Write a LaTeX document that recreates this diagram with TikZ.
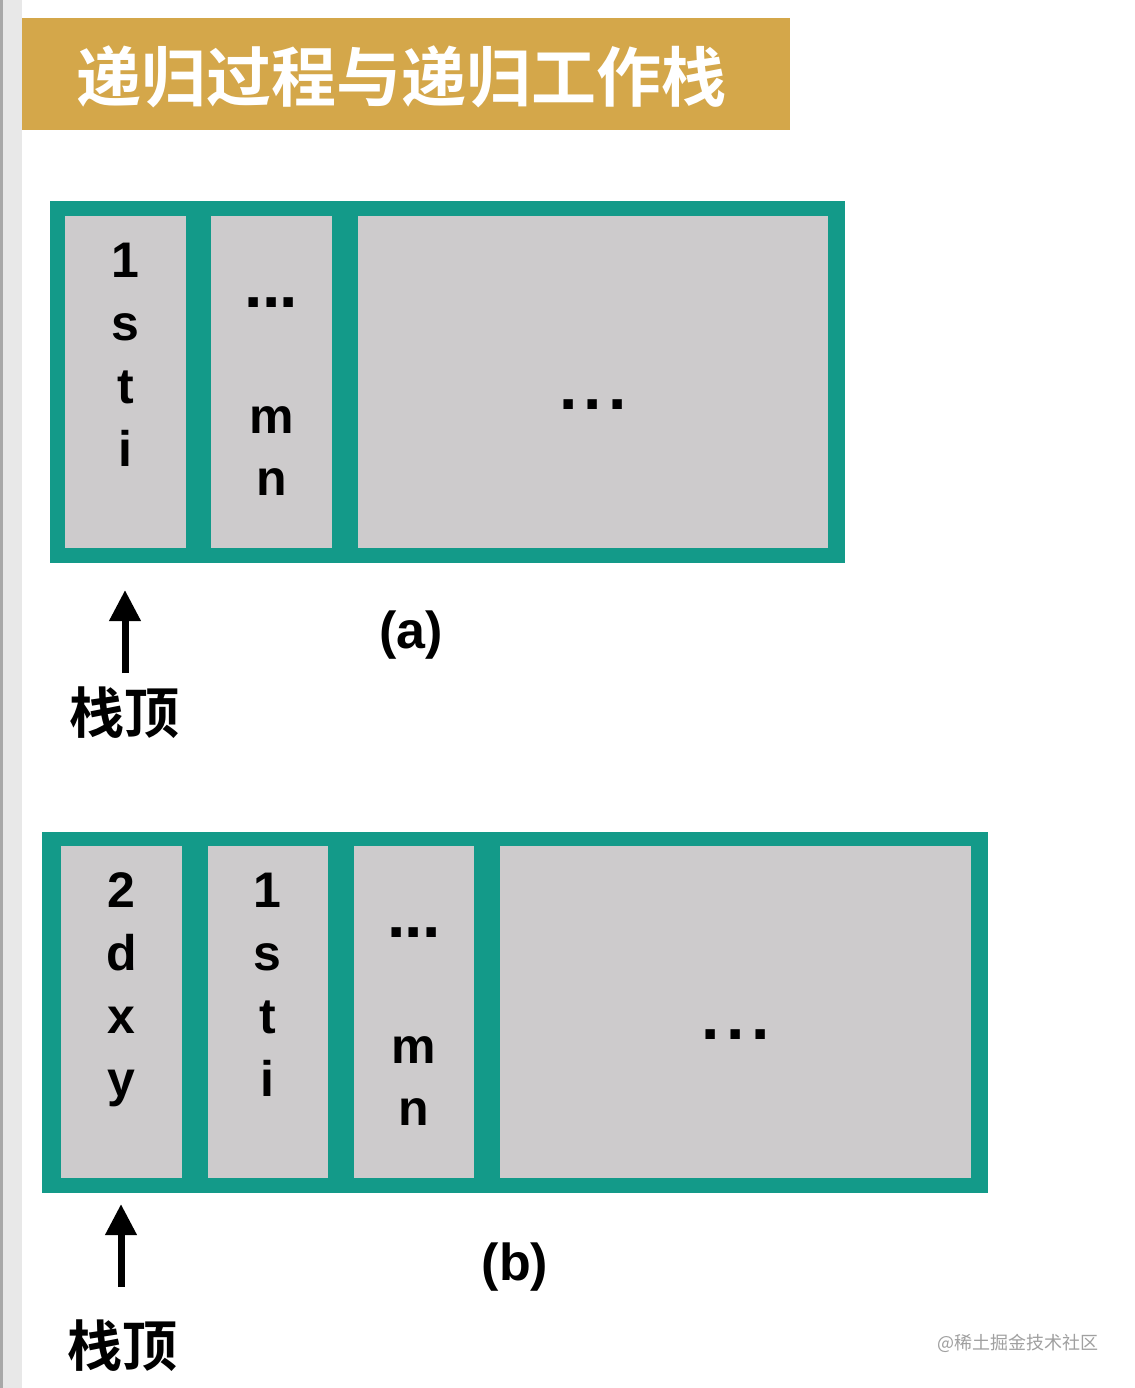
\documentclass[tikz,border=0pt]{standalone}
\usepackage{fontspec}
\setmainfont{Liberation Sans}
\newfontfamily\cjk[BoldFont={* Bold}]{Noto Sans CJK SC}
\usetikzlibrary{arrows.meta}
\definecolor{tealc}{HTML}{139A89}
\definecolor{cellc}{HTML}{CDCBCC}
\definecolor{goldc}{HTML}{D4A74A}
\definecolor{stripc}{HTML}{E8E8E8}
\definecolor{stripd}{HTML}{A8A8A8}
\definecolor{wmc}{HTML}{A0A0A0}
\tikzset{
  frame/.style={fill=tealc},
  cellbox/.style={fill=cellc},
  lt/.style={font=\fontsize{50}{60}\selectfont\bfseries, anchor=base, inner sep=0pt},
  dotsmall/.style={font=\fontsize{66}{70}\selectfont\bfseries, anchor=base, inner sep=0pt},
  lbl/.style={font=\fontsize{52}{60}\selectfont\bfseries, anchor=base, inner sep=0pt},
  cjkl/.style={font=\cjk\fontsize{55}{60}\selectfont\bfseries, inner sep=0pt},
  arr/.style={line width=7pt, -{Triangle[length=31pt,width=30pt]}},
}
\begin{document}
\begin{tikzpicture}[x=1pt,y=-1pt]
\useasboundingbox (0,0) rectangle (1134,1388);
\fill[white] (0,0) rectangle (1134,1388);
% left strip
\fill[stripc] (0,0) rectangle (21.5,1388);
\fill[stripd] (0,0) rectangle (3,1388);
% title bar
\fill[goldc] (22,18.5) rectangle (790,130);
\node[font=\cjk\fontsize{65}{70}\selectfont\bfseries, text=white, inner sep=0pt] (title) at (401,77) {递归过程与递归工作栈};

% ---------- (a) ----------
\fill[frame] (49.5,201.5) rectangle (845,562.5);
\fill[cellbox] (65,216) rectangle (185.7,547.7);
\fill[cellbox] (211,216) rectangle (331.7,547.7);
\fill[cellbox] (358.3,216) rectangle (827.7,547.7);
\node[lt] (a11) at (125.4,277) {1};
\node[lt] (a12) at (125.4,340) {s};
\node[lt] (a13) at (125.4,403) {t};
\node[lt] (a14) at (125.4,466) {i};
\node[dotsmall] (a21) at (271.3,307) {.\kern-1pt.\kern-1pt.};
\node[lt] (a22) at (271.3,433) {m};
\node[lt] (a23) at (271.3,495) {n};
\node[dotsmall] (a31) at (593,409) {.\kern6.5pt.\kern6.5pt.};
\node[lbl] (la) at (411,648) {(a)};
\coordinate (tipa) at (125,590);
\coordinate (basea) at (125,673);
\draw[arr] (basea) -- (tipa);
\node[cjkl] (topa) at (124,713) {栈顶};

% ---------- (b) ----------
\fill[frame] (41.7,831.7) rectangle (987.5,1193);
\fill[cellbox] (61,846) rectangle (181.7,1178.3);
\fill[cellbox] (207.7,846) rectangle (327.7,1178.3);
\fill[cellbox] (353.7,846) rectangle (474.3,1178.3);
\fill[cellbox] (500,846) rectangle (971,1178.3);
\node[lt] (b11) at (121.3,907) {2};
\node[lt] (b12) at (121.3,970) {d};
\node[lt] (b13) at (121.3,1033) {x};
\node[lt] (b14) at (121.3,1096) {y};
\node[lt] (b21) at (267.7,907) {1};
\node[lt] (b22) at (267.7,970) {s};
\node[lt] (b23) at (267.7,1033) {t};
\node[lt] (b24) at (267.7,1096) {i};
\node[dotsmall] (b31) at (414,937) {.\kern-1pt.\kern-1pt.};
\node[lt] (b32) at (414,1063) {m};
\node[lt] (b33) at (414,1125) {n};
\node[dotsmall] (b41) at (735.5,1039) {.\kern6.5pt.\kern6.5pt.};
\node[lbl] (lb) at (515,1280) {(b)};
\coordinate (tipb) at (121,1204);
\coordinate (baseb) at (121,1287);
\draw[arr] (baseb) -- (tipb);
\node[cjkl] (topb) at (122,1346) {栈顶};

% watermark
\node[font=\cjk\fontsize{18}{20}\selectfont, text=wmc, inner sep=0pt] (wm) at (1018,1343) {@稀土掘金技术社区};
\end{tikzpicture}
\end{document}
